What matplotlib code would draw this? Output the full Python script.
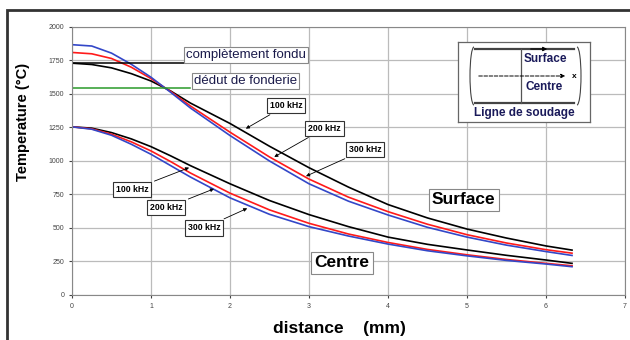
import matplotlib.pyplot as plt
from matplotlib.patches import Rectangle, Arc

plt.rcParams['font.family'] = ['Liberation Sans', 'DejaVu Sans']

# distance (mm)
x = [0, 0.25, 0.5, 0.75, 1.0, 1.25, 1.5, 2.0, 2.5, 3.0, 3.5, 4.0, 4.5, 5.0, 5.5, 6.0, 6.33]

# surface temperatures (°C)
surf_100 = [1730, 1720, 1695, 1652, 1597, 1522, 1432, 1280, 1110, 950, 805, 675, 575, 492, 425, 366, 335]
surf_200 = [1810, 1800, 1765, 1700, 1615, 1518, 1410, 1215, 1030, 865, 730, 622, 528, 450, 388, 338, 312]
surf_300 = [1868, 1858, 1805, 1722, 1625, 1512, 1395, 1190, 1000, 830, 700, 597, 505, 432, 372, 324, 295]

# centre temperatures (°C)
cent_100 = [1255, 1245, 1212, 1165, 1107, 1038, 965, 830, 705, 600, 510, 432, 378, 336, 296, 261, 236]
cent_200 = [1255, 1240, 1200, 1143, 1075, 995, 910, 760, 635, 535, 455, 392, 340, 300, 265, 236, 218]
cent_300 = [1255, 1237, 1192, 1125, 1050, 965, 880, 725, 602, 510, 440, 380, 330, 292, 258, 231, 211]

# melting levels
fondu_T = 1730
fonderie_T = 1542
level_x = [0, 1.5]

xticks = [0, 1, 2, 3, 4, 5, 6, 7]
yticks = [0, 250, 500, 750, 1000, 1250, 1500, 1750, 2000]

blue = '#3347c8'
red = '#ff1a1a'

fig = plt.figure(figsize=(6.3, 3.4), dpi=100)
ax = fig.add_axes([0.1143, 0.1324, 0.8777, 0.7882])

ax.plot(x, surf_100, color='black', lw=1.2)
ax.plot(x, surf_200, color=red, lw=1.2)
ax.plot(x, surf_300, color=blue, lw=1.2)
ax.plot(x, cent_100, color='black', lw=1.2)
ax.plot(x, cent_200, color=red, lw=1.2)
ax.plot(x, cent_300, color=blue, lw=1.2)

ax.plot(level_x, [fondu_T, fondu_T], color='black', lw=1.1)
ax.plot(level_x, [fonderie_T, fonderie_T], color='#2a9a2a', lw=1.1)

ax.set_xlim(0, 7)
ax.set_ylim(0, 2000)
ax.set_xticks(xticks)
ax.set_yticks(yticks)
ax.tick_params(labelsize=5, colors='#444444', length=2)
ax.grid(True, color='#bbbbbb', lw=0.9)
for s in ax.spines.values():
    s.set_color('#888888')

fig.text(23 / 630, 1 - 122 / 340, 'Temperature (°C)', rotation=90, fontsize=10.5, fontweight='bold',
         ha='center', va='center')
fig.text(339 / 630, 1 - 328 / 340, 'distance    (mm)', fontsize=12.5, fontweight='bold',
         ha='center', va='center')

box = dict(boxstyle='square,pad=0.15', fc='white', ec='#888888', lw=0.8)
ax.text(2.2, 1790, 'complètement fondu', fontsize=9.5, color='#1a1a4a', ha='center', va='center', bbox=box)
ax.text(2.2, 1600, 'dédut de fonderie', fontsize=9.5, color='#1a1a4a', ha='center', va='center', bbox=box)

small = dict(boxstyle='square,pad=0.35', fc='white', ec='#333333', lw=0.8)
arrow = dict(arrowstyle='-|>', color='black', lw=0.6, mutation_scale=5)
kw = dict(fontsize=6.3, fontweight='bold', ha='center', va='center', bbox=small, arrowprops=arrow)
ax.annotate('100 kHz', xy=(2.17, 1231), xytext=(2.71, 1415), **kw)
ax.annotate('200 kHz', xy=(2.53, 1020), xytext=(3.2, 1245), **kw)
ax.annotate('300 kHz', xy=(2.93, 878), xytext=(3.71, 1085), **kw)
ax.annotate('100 kHz', xy=(1.515, 958), xytext=(0.76, 785), **kw)
ax.annotate('200 kHz', xy=(1.83, 800), xytext=(1.19, 650), **kw)
ax.annotate('300 kHz', xy=(2.25, 655), xytext=(1.67, 500), **kw)

big = dict(boxstyle='square,pad=0.2', fc='white', ec='#888888', lw=0.8)
ax.text(4.96, 710, 'Surface', fontsize=12.5, fontweight='bold', ha='center', va='center', bbox=big)
ax.text(3.42, 240, 'Centre', fontsize=12.5, fontweight='bold', ha='center', va='center', bbox=big)

# weld line sketch
ins = fig.add_axes([458 / 630, 1 - 122 / 340, 132 / 630, 80 / 340])
ins.set_xlim(0, 132)
ins.set_ylim(80, 0)
ins.set_xticks([])
ins.set_yticks([])
for s in ins.spines.values():
    s.set_color('#666666')
    s.set_linewidth(0.9)
ins.plot([17, 116], [7, 7], color='#444444', lw=1.6)
ins.plot([17, 116], [61, 61], color='#444444', lw=1.6)
ins.plot([63, 63], [7, 61], color='#555555', lw=0.9)
ins.annotate('', xy=(92, 7), xytext=(70, 7),
             arrowprops=dict(arrowstyle='-|>', color='black', lw=0.8, mutation_scale=6))
ins.annotate('', xy=(110, 34), xytext=(18, 34),
             arrowprops=dict(arrowstyle='-|>', color='black', lw=0.7, ls='--', mutation_scale=6))
ins.text(114, 34, 'x', fontsize=6, fontweight='bold', va='center')
ins.text(87, 17, 'Surface', fontsize=8.5, fontweight='bold', color='#1a1a5a', ha='center', va='center')
ins.text(86, 45, 'Centre', fontsize=8.5, fontweight='bold', color='#1a1a5a', ha='center', va='center')
ins.text(66, 71, 'Ligne de soudage', fontsize=8.5, fontweight='bold', color='#1a1a5a', ha='center', va='center')
ins.add_patch(Arc((16, 34), 8, 58, theta1=90, theta2=270, color='#444444', lw=0.8))
ins.add_patch(Arc((119, 34), 8, 58, theta1=-90, theta2=90, color='#444444', lw=0.8))

# outer frame
fig.add_artist(Rectangle((0.011, -0.1), 1.2, 1.0706, transform=fig.transFigure,
                         fill=False, lw=2, edgecolor='#333333'))

fig.savefig('out.png', dpi=100)
